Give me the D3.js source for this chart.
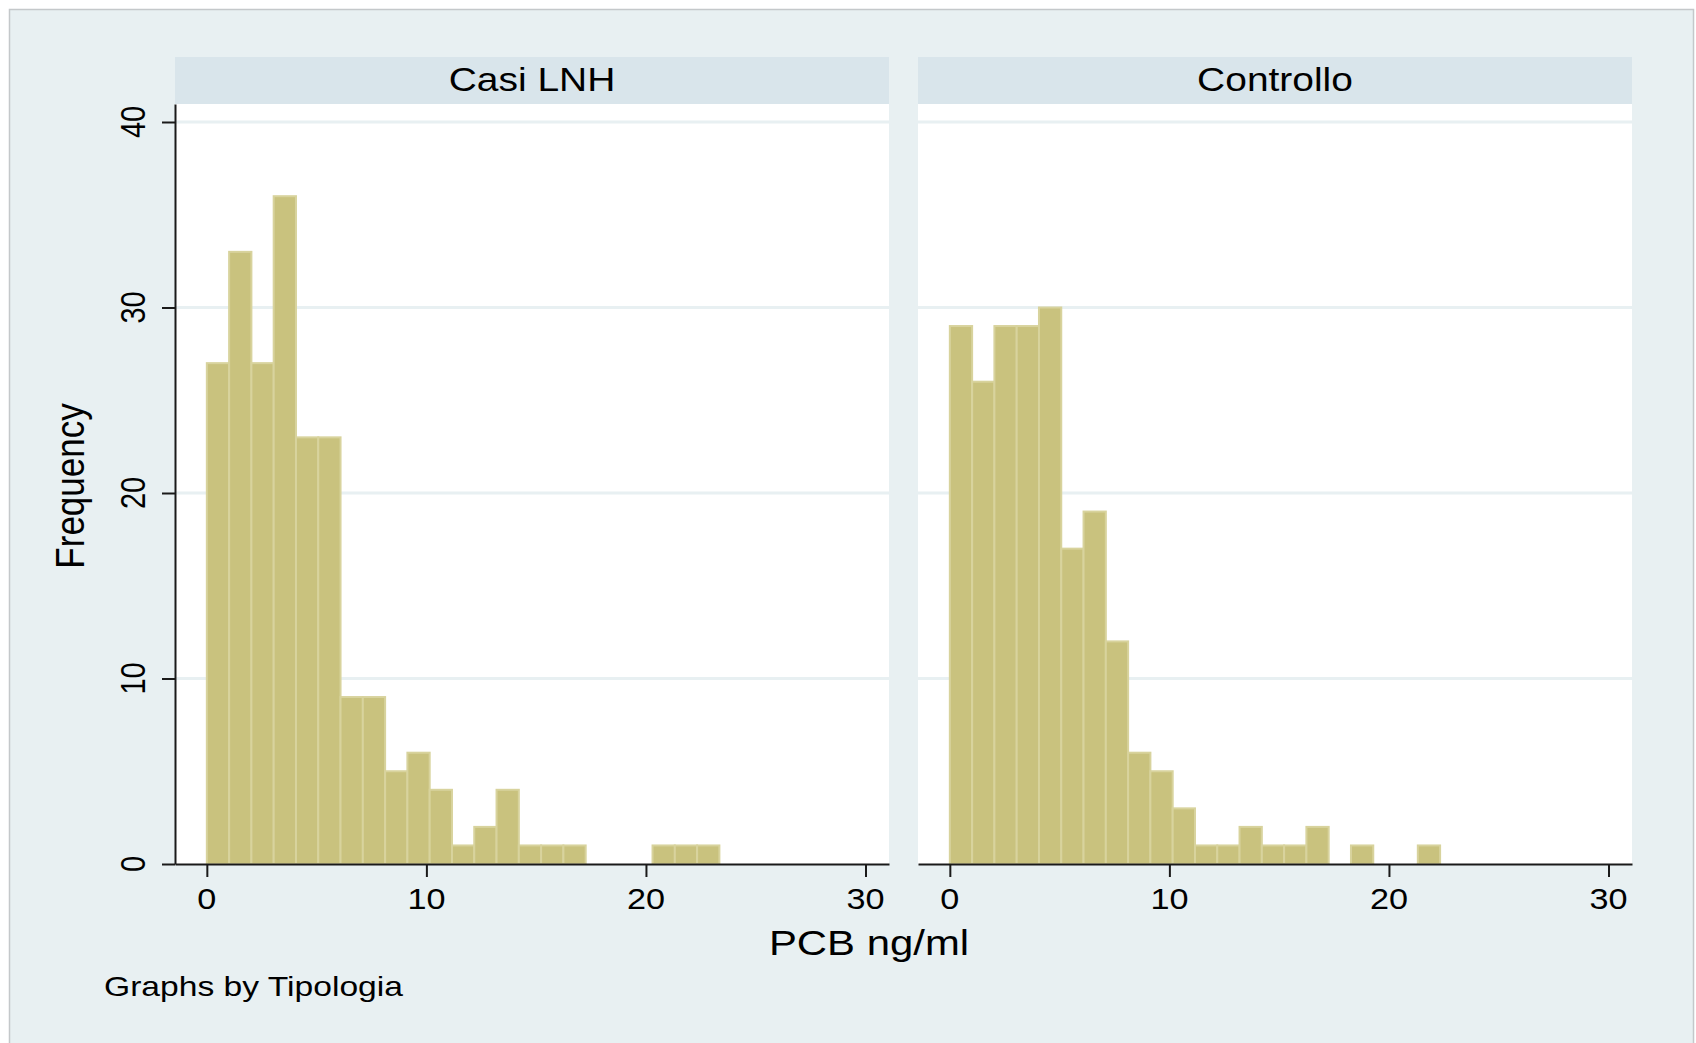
<!DOCTYPE html>
<html>
<head>
<meta charset="utf-8">
<script src="https://cdn.jsdelivr.net/npm/d3@7"></script>
<style>
  body { margin: 0; background: #ffffff; }
</style>
</head>
<body>
<div id="chart"></div>
<script>
// panels (by Tipologia) and the histogram counts, one count per bin
var panelNames = ["Casi LNH", "Controllo"];
var casiCounts = [27, 33, 27, 36, 23, 23, 9, 9, 5, 6, 4, 1, 2, 4, 1, 1, 1, 0, 0, 0, 1, 1, 1];
var controlloCounts = [29, 26, 29, 29, 30, 17, 19, 12, 6, 5, 3, 1, 1, 2, 1, 1, 2, 0, 1, 0, 0, 1];
var binStart = 0;
var binWidth = 1.015;

var xTicks = [0, 10, 20, 30];
var yTicks = [0, 10, 20, 30, 40];
var gridTicks = [10, 20, 30, 40];

var xTitle = "PCB ng/ml";
var yTitle = "Frequency";
var note = "Graphs by Tipologia";

(function () {
  var width = 1696,
    height = 1043;

  // the original graph is stretched sideways, text too
  var stretch = 1.18;
  var font = '"Liberation Sans", Arial, sans-serif';

  var plotTop = 104,
    plotBottom = 864,
    stripTop = 57;

  var svg = d3.select("#chart")
    .append("svg")
    .attr("width", width)
    .attr("height", height);

  // graph region
  svg.append("rect")
    .attr("x", 9.5)
    .attr("y", 9.5)
    .attr("width", 1684)
    .attr("height", 1040)
    .attr("fill", "#e8f0f2")
    .attr("stroke", "#c4c8ca")
    .attr("stroke-width", 1.5);

  function label(x, y, str, size, rotate, anchor) {
    return svg.append("text")
      .attr("transform", "translate(" + x + "," + y + ") scale(" + stretch + ",1)" + (rotate ? " rotate(-90)" : ""))
      .attr("text-anchor", anchor || "middle")
      .attr("fill", "#000000")
      .style("font-family", font)
      .style("font-size", size + "px")
      .text(str);
  }

  var y = d3.scaleLinear().domain([0, 40.97]).range([plotBottom, plotTop]);

  var panels = [
    { name: panelNames[0], counts: casiCounts, left: 175, right: 889, yaxis: true },
    { name: panelNames[1], counts: controlloCounts, left: 918, right: 1632, yaxis: false }
  ];

  panels.forEach(function (p) {
    var x = d3.scaleLinear().domain([-1.45, 31.07]).range([p.left, p.right]);

    var bins = p.counts.map(function (n, i) {
      return { x0: binStart + i * binWidth, x1: binStart + (i + 1) * binWidth, n: n };
    }).filter(function (d) { return d.n > 0; });

    var g = svg.append("g");

    g.append("rect")
      .attr("x", p.left)
      .attr("y", plotTop)
      .attr("width", p.right - p.left)
      .attr("height", plotBottom - plotTop)
      .attr("fill", "#ffffff");

    g.append("rect")
      .attr("x", p.left)
      .attr("y", stripTop)
      .attr("width", p.right - p.left)
      .attr("height", plotTop - stripTop)
      .attr("fill", "#d9e5eb");

    g.selectAll(".grid")
      .data(gridTicks)
      .enter().append("line")
      .attr("class", "grid")
      .attr("x1", p.left)
      .attr("x2", p.right)
      .attr("y1", function (d) { return y(d); })
      .attr("y2", function (d) { return y(d); })
      .attr("stroke", "#e8f0f2")
      .attr("stroke-width", 3);

    g.selectAll(".bar")
      .data(bins)
      .enter().append("rect")
      .attr("class", "bar")
      .attr("x", function (d) { return x(d.x0); })
      .attr("width", function (d) { return x(d.x1) - x(d.x0); })
      .attr("y", function (d) { return y(d.n); })
      .attr("height", function (d) { return y(0) - y(d.n); })
      .attr("fill", "#c9c27e")
      .attr("stroke", "#d8d39d")
      .attr("stroke-width", 2);

    var xAxis = g.append("g")
      .attr("transform", "translate(0," + plotBottom + ")")
      .call(d3.axisBottom(x).tickValues(xTicks).tickSize(13).tickSizeOuter(0).tickFormat(""));
    xAxis.selectAll("path, line").attr("stroke", "#1a1a1a").attr("stroke-width", 2);

    xTicks.forEach(function (t) {
      label(x(t), 909, t, 29);
    });

    if (p.yaxis) {
      var yAxis = g.append("g")
        .attr("transform", "translate(" + p.left + ",0)")
        .call(d3.axisLeft(y).tickValues(yTicks).tickSize(13).tickSizeOuter(0).tickFormat(""));
      yAxis.selectAll("path, line").attr("stroke", "#1a1a1a").attr("stroke-width", 2);

      yTicks.forEach(function (t) {
        label(145, y(t), t, 29, true);
      });
    }

    label((p.left + p.right) / 2, 91, p.name, 33);
  });

  label(869, 955, xTitle, 35.5);
  label(84, 486, yTitle, 35, true);
  label(104, 996, note, 28.5, false, "start");
})();
</script>
</body>
</html>
